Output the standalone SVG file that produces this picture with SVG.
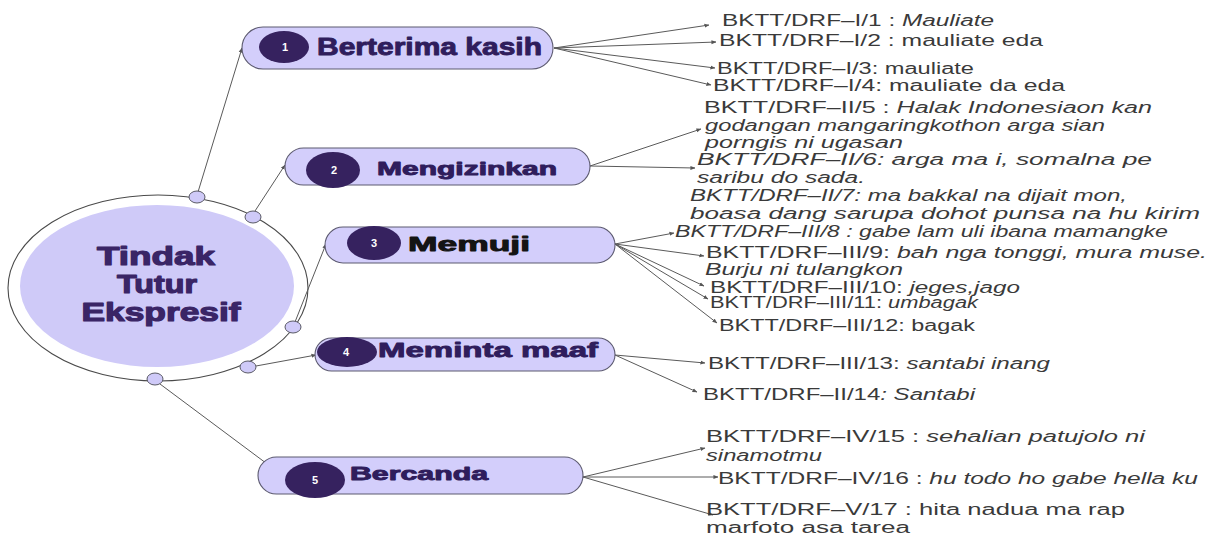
<svg xmlns="http://www.w3.org/2000/svg" width="1211" height="539" viewBox="0 0 1211 539">
  <defs>
    <marker id="tip" viewBox="0 0 6 6" refX="5.5" refY="3" markerWidth="5" markerHeight="5" markerUnits="userSpaceOnUse" orient="auto">
      <path d="M0,0.6 L6,3 L0,5.4 z" fill="#555"/>
    </marker>
    <style>
      .ring { fill: #ffffff; stroke: #4a4a4a; stroke-width: 1.1; }
      .core { fill: #cfcaf8; }
      .dot { fill: #cfcaf8; stroke: #5a5a66; stroke-width: 1; }
      .pill { fill: #d3cefb; stroke: #5c5a70; stroke-width: 1.1; }
      .badge { fill: #36225f; }
      .num { fill: #ffffff; font-family: "Liberation Sans", Arial, sans-serif; font-weight: bold; font-size: 11px; text-anchor: middle; }
      .title { fill: #3a2566; stroke: #3a2566; stroke-width: 1.2; stroke-linejoin: round; font-family: "Liberation Sans", Arial, sans-serif; font-weight: bold; font-size: 26px; text-anchor: middle; }
      .label { fill: #2f1d5c; stroke: #2f1d5c; stroke-width: 0.9; stroke-linejoin: round; font-family: "Liberation Sans", Arial, sans-serif; font-weight: bold; }
      .dark { fill: #141414; stroke: #141414; }
      .link { fill: none; stroke: #5a5a5a; stroke-width: 1; marker-end: url(#tip); }
      .leaf { fill: #3a3a3a; font-family: "Liberation Sans", Arial, sans-serif; font-size: 16px; }
      .it { font-style: italic; }
    </style>
  </defs>

  <rect width="1211" height="539" fill="#ffffff"/>

  <!-- central topic -->
  <g id="center">
    <ellipse class="ring" cx="158" cy="288" rx="150" ry="93"/>
    <ellipse class="core" cx="157" cy="286" rx="137" ry="81"/>
    <text class="title" x="156" y="265" textLength="118" lengthAdjust="spacingAndGlyphs">Tindak</text>
    <text class="title" x="157" y="293" textLength="80" lengthAdjust="spacingAndGlyphs">Tutur</text>
    <text class="title" x="161" y="321" textLength="159" lengthAdjust="spacingAndGlyphs">Ekspresif</text>
  </g>

  <!-- connectors -->
  <g id="connectors">
    <!-- center to categories -->
    <line class="link" x1="198" y1="192" x2="242" y2="48"/>
    <line class="link" x1="255" y1="211" x2="285" y2="165"/>
    <line class="link" x1="295" y1="322" x2="326" y2="244"/>
    <line class="link" x1="256" y1="366" x2="316" y2="355"/>
    <line class="link" x1="160" y1="384" x2="286" y2="478"/>

    <!-- 1 Berterima kasih -->
    <line class="link" x1="554" y1="48" x2="709" y2="25"/>
    <line class="link" x1="554" y1="48" x2="716" y2="42"/>
    <line class="link" x1="554" y1="48" x2="715" y2="68"/>
    <line class="link" x1="554" y1="48" x2="711" y2="85"/>

    <!-- 2 Mengizinkan -->
    <line class="link" x1="590" y1="166" x2="701" y2="129"/>
    <line class="link" x1="590" y1="166" x2="695" y2="168"/>

    <!-- 3 Memuji -->
    <line class="link" x1="615" y1="244" x2="674" y2="233"/>
    <line class="link" x1="615" y1="244" x2="704" y2="256"/>
    <line class="link" x1="615" y1="244" x2="704" y2="286"/>
    <line class="link" x1="615" y1="244" x2="708" y2="299"/>
    <line class="link" x1="615" y1="244" x2="717" y2="323"/>

    <!-- 4 Meminta maaf -->
    <line class="link" x1="615" y1="355" x2="705" y2="363"/>
    <line class="link" x1="615" y1="355" x2="697" y2="392"/>

    <!-- 5 Bercanda -->
    <line class="link" x1="583" y1="477" x2="705" y2="448"/>
    <line class="link" x1="583" y1="477" x2="718" y2="477"/>
    <line class="link" x1="583" y1="477" x2="713" y2="515"/>
  </g>

  <!-- anchor dots on the ring -->
  <g id="ring-dots">
    <ellipse class="dot" cx="197" cy="197" rx="8" ry="6"/>
    <ellipse class="dot" cx="253" cy="217" rx="8" ry="6"/>
    <ellipse class="dot" cx="293" cy="327" rx="8" ry="6"/>
    <ellipse class="dot" cx="248" cy="367" rx="8" ry="6"/>
    <ellipse class="dot" cx="155" cy="379" rx="8" ry="6"/>
  </g>

  <!-- category nodes -->
  <g id="node-1">
    <rect class="pill" x="242" y="27" width="311" height="42" rx="21"/>
    <ellipse class="badge" cx="284" cy="47" rx="25" ry="16"/>
    <text class="num" x="285" y="51">1</text>
    <text class="label" x="317" y="55" font-size="24" textLength="225" lengthAdjust="spacingAndGlyphs">Berterima kasih</text>
  </g>

  <g id="node-2">
    <rect class="pill" x="285" y="148" width="305" height="37" rx="18.5"/>
    <ellipse class="badge" cx="333" cy="170" rx="27" ry="18"/>
    <text class="num" x="334" y="174">2</text>
    <text class="label" x="377" y="175" font-size="18" textLength="180" lengthAdjust="spacingAndGlyphs">Mengizinkan</text>
  </g>

  <g id="node-3">
    <rect class="pill" x="325" y="227" width="290" height="36" rx="18"/>
    <ellipse class="badge" cx="374" cy="243" rx="27" ry="17"/>
    <text class="num" x="374" y="247">3</text>
    <text class="label dark" x="408" y="251" font-size="20" textLength="122" lengthAdjust="spacingAndGlyphs">Memuji</text>
  </g>

  <g id="node-4">
    <rect class="pill" x="315" y="338" width="300" height="33" rx="16.5"/>
    <ellipse class="badge" cx="347" cy="352" rx="30" ry="15"/>
    <text class="num" x="346" y="356">4</text>
    <text class="label" x="378" y="357" font-size="21" textLength="220" lengthAdjust="spacingAndGlyphs">Meminta maaf</text>
  </g>

  <g id="node-5">
    <rect class="pill" x="258" y="457" width="325" height="37" rx="18.5"/>
    <ellipse class="badge" cx="315" cy="480" rx="30" ry="18"/>
    <text class="num" x="315" y="484">5</text>
    <text class="label" x="350" y="480" font-size="18" textLength="138" lengthAdjust="spacingAndGlyphs">Bercanda</text>
  </g>

  <!-- data excerpts -->
  <g id="leaves-1">
    <text class="leaf" x="722" y="26" textLength="272" lengthAdjust="spacingAndGlyphs">BKTT/DRF–I/1  : <tspan class="it">Mauliate</tspan></text>
    <text class="leaf" x="719" y="46" textLength="324" lengthAdjust="spacingAndGlyphs">BKTT/DRF–I/2 : mauliate eda</text>
    <text class="leaf" x="717" y="74" textLength="257" lengthAdjust="spacingAndGlyphs">BKTT/DRF–I/3: mauliate</text>
    <text class="leaf" x="713" y="91" textLength="352" lengthAdjust="spacingAndGlyphs">BKTT/DRF–I/4: mauliate da eda</text>
  </g>

  <g id="leaves-2">
    <text class="leaf" x="704" y="113" textLength="448" lengthAdjust="spacingAndGlyphs">BKTT/DRF–II/5  : <tspan class="it">Halak Indonesiaon kan</tspan></text>
    <text class="leaf it" x="705" y="131" textLength="400" lengthAdjust="spacingAndGlyphs">godangan mangaringkothon arga sian</text>
    <text class="leaf it" x="705" y="148" textLength="198" lengthAdjust="spacingAndGlyphs">porngis ni ugasan</text>
    <text class="leaf it" x="697" y="165" textLength="455" lengthAdjust="spacingAndGlyphs">BKTT/DRF–II/6: arga ma i, somalna pe</text>
    <text class="leaf it" x="697" y="183" textLength="168" lengthAdjust="spacingAndGlyphs">saribu do sada.</text>
    <text class="leaf it" x="690" y="201" textLength="437" lengthAdjust="spacingAndGlyphs">BKTT/DRF–II/7: ma bakkal na dijait mon,</text>
    <text class="leaf it" x="690" y="219" textLength="510" lengthAdjust="spacingAndGlyphs">boasa dang sarupa dohot punsa na hu kirim</text>
  </g>

  <g id="leaves-3">
    <text class="leaf it" x="675" y="237" textLength="493" lengthAdjust="spacingAndGlyphs">BKTT/DRF–III/8 : gabe lam uli ibana mamangke</text>
    <text class="leaf" x="706" y="258" textLength="501" lengthAdjust="spacingAndGlyphs">BKTT/DRF–III/9: <tspan class="it">bah nga tonggi, mura muse.</tspan></text>
    <text class="leaf it" x="705" y="275" textLength="198" lengthAdjust="spacingAndGlyphs">Burju ni tulangkon</text>
    <text class="leaf" x="710" y="293" textLength="310" lengthAdjust="spacingAndGlyphs">BKTT/DRF–III/10: <tspan class="it">jeges,jago</tspan></text>
    <text class="leaf" x="710" y="308" textLength="268" lengthAdjust="spacingAndGlyphs">BKTT/DRF–III/11: <tspan class="it">umbagak</tspan></text>
    <text class="leaf" x="719" y="331" textLength="256" lengthAdjust="spacingAndGlyphs">BKTT/DRF–III/12: bagak</text>
  </g>

  <g id="leaves-4">
    <text class="leaf" x="708" y="369" textLength="342" lengthAdjust="spacingAndGlyphs">BKTT/DRF–III/13: <tspan class="it">santabi inang</tspan></text>
    <text class="leaf" x="703" y="400" textLength="272" lengthAdjust="spacingAndGlyphs">BKTT/DRF–II/14<tspan class="it">: Santabi</tspan></text>
  </g>

  <g id="leaves-5">
    <text class="leaf" x="706" y="442" textLength="439" lengthAdjust="spacingAndGlyphs">BKTT/DRF–IV/15  : <tspan class="it">sehalian patujolo ni</tspan></text>
    <text class="leaf it" x="706" y="461" textLength="116" lengthAdjust="spacingAndGlyphs">sinamotmu</text>
    <text class="leaf" x="718" y="484" textLength="480" lengthAdjust="spacingAndGlyphs">BKTT/DRF–IV/16 : <tspan class="it">hu todo ho gabe hella ku</tspan></text>
    <text class="leaf" x="706" y="515" textLength="419" lengthAdjust="spacingAndGlyphs">BKTT/DRF–V/17 : hita nadua ma rap</text>
    <text class="leaf" x="706" y="533" textLength="204" lengthAdjust="spacingAndGlyphs">marfoto asa tarea</text>
  </g>
</svg>
